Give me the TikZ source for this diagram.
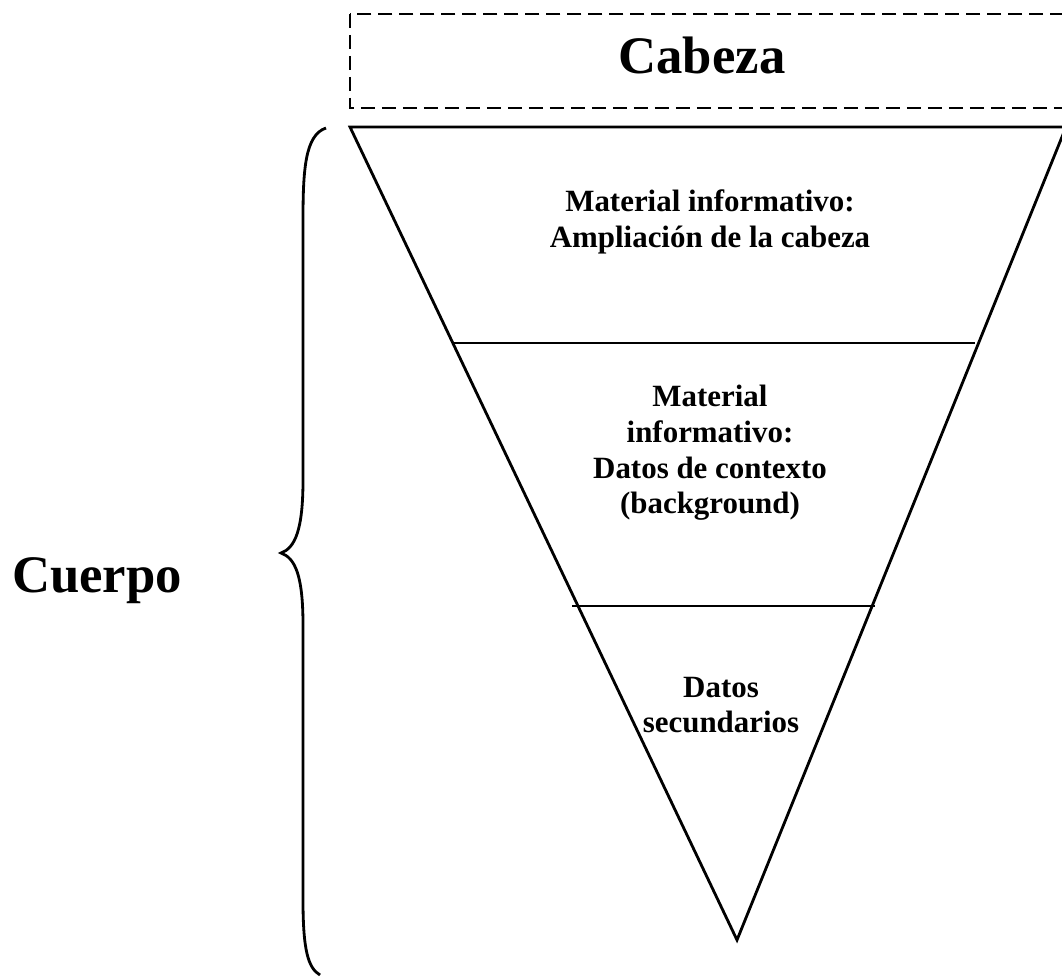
\documentclass[tikz,border=0pt]{standalone}
\usepackage{fontspec}
\setmainfont{Liberation Serif}
\usepackage{tikz}

\begin{document}
\begin{tikzpicture}[x=0.02cm,y=-0.02cm,line width=1.6pt,
        big/.style={anchor=base,font=\bfseries\fontsize{30}{34}\selectfont},
        txt/.style={align=center,font=\bfseries\fontsize{17.6}{20.3}\selectfont}]
                \useasboundingbox (0,0) rectangle (1062,977);

                % cabeza
                \draw[dash pattern=on 0.28cm off 0.14cm] (350,14) rectangle (1075,108);
                \node[big] (cabeza) at(702,73) {Cabeza};

                % piramide invertida
                \draw (350,127) -- (1066,127) -- (737,940) -- cycle;
                \draw (452,343) -- (975,343);
                \draw (572,606) -- (875,606);

                \node[txt] (ampliacion) at(710,222) {Material informativo:\\Ampliación de la cabeza};
                \node[txt] (contexto) at(710,453) {Material\\informativo:\\Datos de contexto\\(background)};
                \node[txt] (secundarios) at(721,705) {Datos\\secundarios};

                % llave
                \draw (326,128) .. controls (305,135) and (303,170) .. (303,220)
                        -- (303,480) .. controls (303,530) and (295,548) .. (281,553)
                        .. controls (295,558) and (303,575) .. (303,625)
                        -- (303,900) .. controls (303,950) and (308,968) .. (320,975);
                \node[big] (cuerpo) at(97,592) {Cuerpo};
            \end{tikzpicture}
\end{document}
